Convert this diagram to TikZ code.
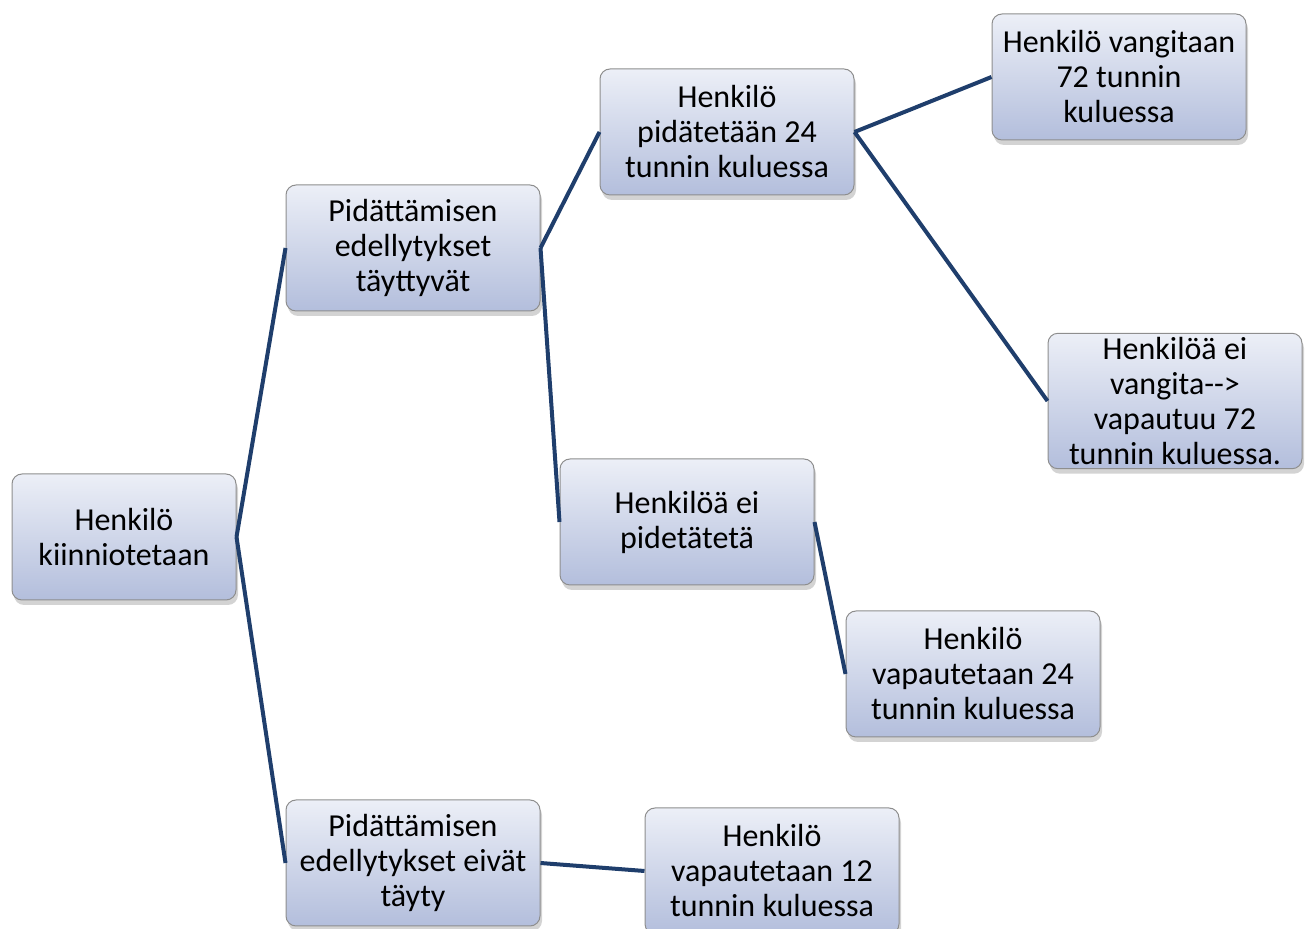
\documentclass[tikz,border=0pt]{standalone}
\usepackage{fontspec}
\setmainfont{Carlito}
\usepackage{tikz}
\usetikzlibrary{shadows}
\definecolor{boxtop}{HTML}{ECEFF7}
\definecolor{boxbot}{HTML}{B3BEDC}
\definecolor{boxline}{HTML}{8E8E8E}
\definecolor{linkblue}{HTML}{1F3E6C}
\tikzset{
    box/.style={rectangle, rounded corners=5pt,
        minimum width=127pt, minimum height=63pt, inner sep=2pt,
        align=center, draw=boxline, line width=0.5pt,
        top color=boxtop, bottom color=boxbot,
        font=\fontsize{16}{17.5}\selectfont,
        drop shadow={opacity=0.35, shadow xshift=1pt, shadow yshift=-2.5pt}},
    smallbox/.style={box, minimum width=112pt},
    link/.style={draw=linkblue, line width=2pt}
}

\begin{document}
\begin{tikzpicture}[x=0.5pt, y=-0.5pt]
    \useasboundingbox (0,0) rectangle (1308,929);
    \clip (0,0) rectangle (1308,929);
    % boxes
    \node[smallbox] (kiinni) at (124,537) {Henkilö\\kiinniotetaan};
    \node[box] (tayttyy) at (413,248) {Pidättämisen\\edellytykset\\täyttyvät};
    \node[box] (eitayty) at (413,863) {Pidättämisen\\edellytykset eivät\\täyty};
    \node[box] (pidatetaan) at (727,132) {Henkilö\\pidätetään 24\\tunnin kuluessa};
    \node[box] (eipideta) at (687,522) {Henkilöä ei\\pidetätetä};
    \node[box] (vap12) at (772,871) {Henkilö\\vapautetaan 12\\tunnin kuluessa};
    \node[box] (vangitaan) at (1119,77) {Henkilö vangitaan\\72 tunnin\\kuluessa};
    \node[box] (eivangita) at (1175,401) {Henkilöä ei\\vangita-{}->\\vapautuu 72\\tunnin kuluessa.};
    \node[box] (vap24) at (973,674) {Henkilö\\vapautetaan 24\\tunnin kuluessa};
    % links
    \path (kiinni.east) edge [link] (tayttyy.west)
        (kiinni.east) edge [link] (eitayty.west)
        (tayttyy.east) edge [link] (pidatetaan.west)
        (tayttyy.east) edge [link] (eipideta.west)
        (pidatetaan.east) edge [link] (vangitaan.west)
        (pidatetaan.east) edge [link] (eivangita.west)
        (eipideta.east) edge [link] (vap24.west)
        (eitayty.east) edge [link] (vap12.west);
\end{tikzpicture}
\end{document}
